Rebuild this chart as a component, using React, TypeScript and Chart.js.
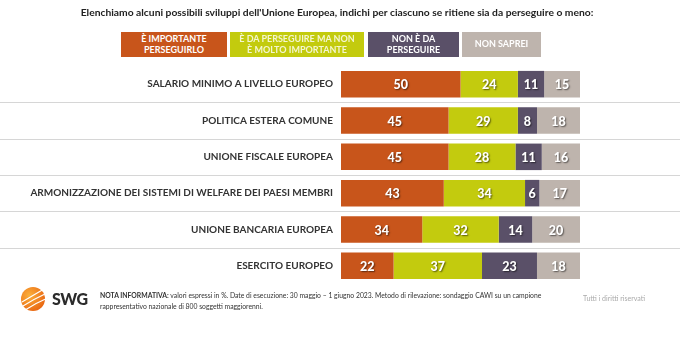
import React, { useEffect, useRef } from "react";
import { Chart, registerables } from "chart.js";

Chart.register(...registerables);

const categories = [
  "SALARIO MINIMO A LIVELLO EUROPEO",
  "POLITICA ESTERA COMUNE",
  "UNIONE FISCALE EUROPEA",
  "ARMONIZZAZIONE DEI SISTEMI DI WELFARE DEI PAESI MEMBRI",
  "UNIONE BANCARIA EUROPEA",
  "ESERCITO EUROPEO",
];
const importante = [50, 45, 45, 43, 34, 22];
const daPerseguire = [24, 29, 28, 34, 32, 37];
const nonDaPerseguire = [11, 8, 11, 6, 14, 23];
const nonSaprei = [15, 18, 16, 17, 20, 18];

const seriesNames = [
  ["È IMPORTANTE", "PERSEGUIRLO"],
  ["È DA PERSEGUIRE MA NON", "È MOLTO IMPORTANTE"],
  ["NON È DA", "PERSEGUIRE"],
  ["NON SAPREI"],
];
const colors = ["#C8551B", "#C3CB0E", "#5A5068", "#BEB4AD"];

const FONT = "Lato, 'Open Sans', sans-serif";

const separators = {
  id: "separators",
  beforeDatasetsDraw(chart: any) {
    const y = chart.scales.y;
    const ctx = chart.ctx;
    ctx.save();
    ctx.strokeStyle = "#D6D6D6";
    ctx.lineWidth = 1;
    for (let i = 0; i < categories.length - 1; i++) {
      const py = Math.round((y.getPixelForValue(i) + y.getPixelForValue(i + 1)) / 2) + 0.5;
      ctx.beginPath();
      ctx.moveTo(0, py);
      ctx.lineTo(chart.width, py);
      ctx.stroke();
    }
    ctx.restore();
  },
};

const valueLabels = {
  id: "valueLabels",
  afterDatasetsDraw(chart: any) {
    const ctx = chart.ctx;
    ctx.save();
    ctx.font = `900 12.5px ${FONT}`;
    ctx.textAlign = "center";
    ctx.textBaseline = "middle";
    chart.data.datasets.forEach((ds: any, di: number) => {
      const meta = chart.getDatasetMeta(di);
      meta.data.forEach((bar: any, i: number) => {
        const cx = (bar.x + bar.base) / 2;
        ctx.shadowColor = "rgba(0,0,0,0.55)";
        ctx.shadowOffsetX = 1;
        ctx.shadowOffsetY = 1;
        ctx.shadowBlur = 1.5;
        ctx.fillStyle = "#FFFFFF";
        ctx.fillText(String(ds.data[i]), cx, bar.y + 1);
      });
    });
    ctx.restore();
  },
};

function Logo() {
  return (
    <svg width="26" height="26" viewBox="0 0 26 26" style={{ position: "absolute", left: 20, top: 286 }}>
      <defs>
        <radialGradient id="lg" cx="35%" cy="35%" r="75%">
          <stop offset="0%" stopColor="#FBB03B" />
          <stop offset="100%" stopColor="#E8620F" />
        </radialGradient>
      </defs>
      <circle cx="13" cy="13" r="12" fill="url(#lg)" />
      <path d="M2 16 Q12 10 24 3" stroke="#fff" strokeWidth="1.2" fill="none" />
      <path d="M3 20 Q14 13 25 8" stroke="#fff" strokeWidth="1.2" fill="none" />
      <path d="M6 23.5 Q16 17 25.5 13" stroke="#fff" strokeWidth="1.2" fill="none" />
    </svg>
  );
}

export default function App() {
  const ref = useRef<HTMLCanvasElement>(null);
  useEffect(() => {
    document.body.style.margin = "0";
    const data = [importante, daPerseguire, nonDaPerseguire, nonSaprei];
    const chart = new Chart(ref.current!, {
      type: "bar",
      data: {
        labels: categories,
        datasets: data.map((d, i) => ({
          label: seriesNames[i].join(" "),
          data: d,
          backgroundColor: colors[i],
          borderWidth: 0,
          categoryPercentage: 1,
          barPercentage: 0.73,
        })),
      },
      options: {
        indexAxis: "y",
        animation: false,
        responsive: false,
        maintainAspectRatio: false,
        layout: { padding: { left: 0, right: 100, top: 66, bottom: 68 } },
        plugins: { legend: { display: false }, tooltip: { enabled: false } },
        scales: {
          x: { stacked: true, min: 0, max: 100, display: false },
          y: {
            stacked: true,
            grid: { display: false, drawTicks: false },
            border: { display: false },
            afterFit: (axis: any) => {
              axis.width = 341;
            },
            ticks: {
              padding: 8,
              color: "#333333",
              font: { family: FONT, weight: "bold", size: 10 },
            },
          },
        },
      },
      plugins: [separators, valueLabels],
    });
    return () => chart.destroy();
  }, []);

  const legendBoxes = [
    { left: 121, width: 106 },
    { left: 230, width: 134 },
    { left: 368, width: 91 },
    { left: 462, width: 79 },
  ];

  return (
    <div style={{ position: "absolute", left: 0, top: 0, width: 680, height: 352, background: "#fff", fontFamily: FONT }}>
      <canvas ref={ref} width={680} height={352} style={{ position: "absolute", left: 0, top: 0 }} />
      <div
        style={{
          position: "absolute",
          left: -3,
          top: 6,
          width: 680,
          textAlign: "center",
          fontWeight: "bold",
          fontSize: 10.3,
          color: "#222",
          whiteSpace: "nowrap",
        }}
      >
        Elenchiamo alcuni possibili sviluppi dell'Unione Europea, indichi per ciascuno se ritiene sia da perseguire o meno:
      </div>
      {legendBoxes.map((b, i) => (
        <div
          key={i}
          style={{
            position: "absolute",
            left: b.left,
            top: 32,
            width: b.width,
            height: 25,
            background: colors[i],
            color: i === 1 ? "#F4F6D0" : "#FFFFFF",
            fontWeight: "bold",
            fontSize: 9,
            lineHeight: "10.5px",
            display: "flex",
            flexDirection: "column",
            justifyContent: "center",
            alignItems: "center",
            textAlign: "center",
          }}
        >
          {seriesNames[i].map((t, j) => (
            <div key={j}>{t}</div>
          ))}
        </div>
      ))}
      <Logo />
      <div style={{ position: "absolute", left: 52, top: 289, fontWeight: 900, fontSize: 16, letterSpacing: -0.5, color: "#2B2B2B" }}>SWG</div>
      <div style={{ position: "absolute", left: 100, top: 290, fontSize: 6.8, lineHeight: "11px", color: "#333" }}>
        <div>
          <b>NOTA INFORMATIVA:</b> valori espressi in %. Date di esecuzione: 30 maggio – 1 giugno 2023. Metodo di rilevazione: sondaggio CAWI su un campione
        </div>
        <div>rappresentativo nazionale di 800 soggetti maggiorenni.</div>
      </div>
      <div style={{ position: "absolute", left: 583, top: 294, fontSize: 7, color: "#AAAAAA" }}>Tutti i diritti riservati</div>
    </div>
  );
}
